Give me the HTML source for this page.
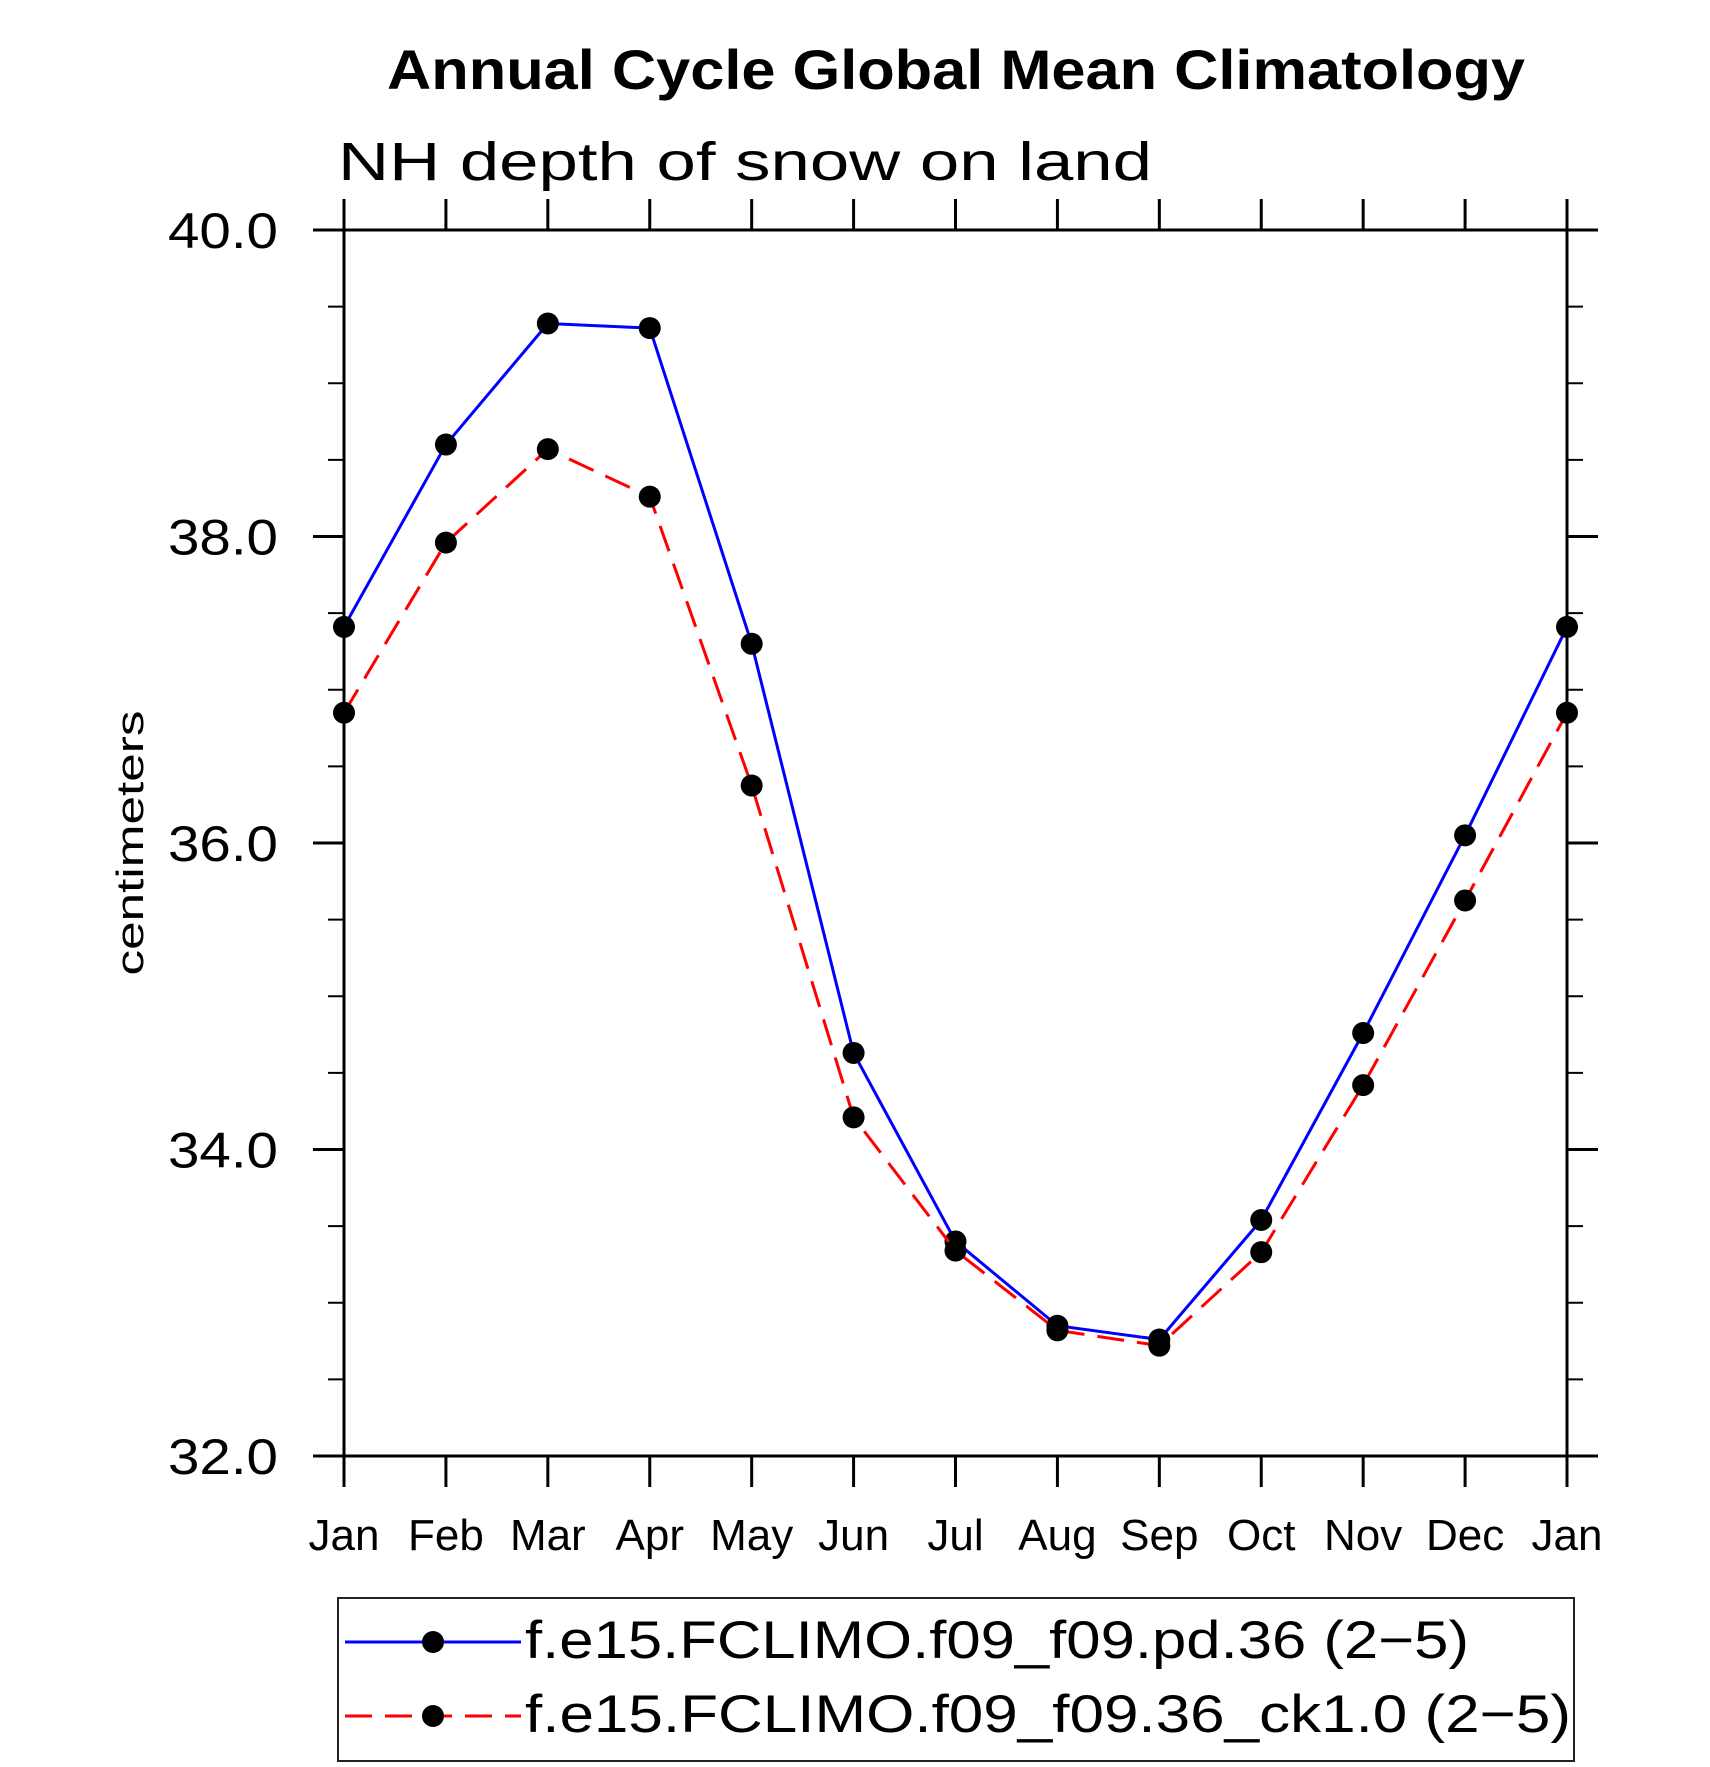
<!DOCTYPE html>
<html><head><meta charset="utf-8"><style>
html,body{margin:0;padding:0;background:#fff;}
svg{display:block;}
text{font-family:"Liberation Sans",sans-serif;fill:#000;}
</style></head><body>
<svg id="chart" width="1710" height="1767" viewBox="0 0 1710 1767" xmlns="http://www.w3.org/2000/svg">
<text x="956" y="89" text-anchor="middle" font-size="56" font-weight="bold" textLength="1138" lengthAdjust="spacingAndGlyphs">Annual Cycle Global Mean Climatology</text>
<text x="338" y="180" font-size="54" textLength="814" lengthAdjust="spacingAndGlyphs">NH depth of snow on land</text>
<text transform="translate(143,843) rotate(-90)" text-anchor="middle" font-size="38" textLength="265" lengthAdjust="spacingAndGlyphs">centimeters</text>
<g id="axes"></g>
<g id="series"></g>
<g>
<rect x="338" y="1598" width="1236" height="163" fill="none" stroke="#222" stroke-width="2"/>
<g>
<line x1="345" y1="1642" x2="521" y2="1642" stroke="#0000ff" stroke-width="3"/>
<circle cx="433" cy="1642" r="11" fill="#000"/>
<text x="525" y="1658" font-size="53" textLength="944" lengthAdjust="spacingAndGlyphs">f.e15.FCLIMO.f09_f09.pd.36 (2−5)</text>
</g>
<g>
<line x1="345" y1="1716" x2="521" y2="1716" stroke="#ff0000" stroke-width="3" stroke-dasharray="27,13"/>
<circle cx="433" cy="1716" r="11" fill="#000"/>
<text x="525" y="1732" font-size="53" textLength="1046" lengthAdjust="spacingAndGlyphs">f.e15.FCLIMO.f09_f09.36_ck1.0 (2−5)</text>
</g>
</g>
</svg>
<script>
const months = ["Jan","Feb","Mar","Apr","May","Jun","Jul","Aug","Sep","Oct","Nov","Dec","Jan"];
const seriesPd36 = [37.41,38.60,39.39,39.36,37.30,34.63,33.40,32.85,32.76,33.54,34.76,36.05,37.41];
const seriesCk10 = [36.85,37.96,38.57,38.26,36.375,34.21,33.34,32.82,32.72,33.33,34.42,35.625,36.85];
const yTickValues = [32,34,36,38,40];
const yTickLabels = ["32.0","34.0","36.0","38.0","40.0"];
const yMin = 32, yMax = 40;

const L=344,R=1567,T=230,B=1456;
const NS="http://www.w3.org/2000/svg";
function xs(i){return L+(R-L)*i/(months.length-1);}
function ys(v){return B-(B-T)*(v-yMin)/(yMax-yMin);}
function mk(tag,attrs,parent){const e=document.createElementNS(NS,tag);for(const k in attrs)e.setAttribute(k,attrs[k]);parent.appendChild(e);return e;}
const axes=document.getElementById('axes');
let f=mk('rect',{x:L,y:T,width:R-L,height:B-T,stroke:"#000","stroke-width":3,fill:"none"},axes);


months.forEach((m,i)=>{
  const x=xs(i);
  let t=mk('line',{x1:x,y1:B,x2:x,y2:B+31,stroke:"#000","stroke-width":3},axes);
  
  
  let t2=mk('line',{x1:x,y1:T,x2:x,y2:T-31,stroke:"#000","stroke-width":3},axes);
  
  
  let lb=mk('text',{x:x,y:1550,"text-anchor":"middle","font-size":"44"},axes);
  lb.textContent=m;
  
  
});
for(let v=yMin;v<=yMax+1e-9;v+=0.5){
  const y=ys(v);
  const major=Math.abs(v-Math.round(v/2)*2)<1e-9;
  const len=major?31:16;
  let a=mk('line',{x1:L-len,y1:y,x2:L,y2:y,stroke:"#000","stroke-width":major?3:2},axes);
  
  
  let b=mk('line',{x1:R,y1:y,x2:R+len,y2:y,stroke:"#000","stroke-width":major?3:2},axes);
  
  
}
yTickValues.forEach((v,i)=>{
  let lb=mk('text',{x:278,y:ys(v)+18,"text-anchor":"end","font-size":"50",textLength:"110",lengthAdjust:"spacingAndGlyphs"},axes);
  lb.textContent=yTickLabels[i];
  
  
});
const sg=document.getElementById('series');
function drawSeries(vals,color,dash,name){
  const pts=vals.map((v,i)=>xs(i)+","+ys(v)).join(" ");
  const attrs={points:pts,fill:"none",stroke:color,"stroke-width":3};
  if(dash)attrs["stroke-dasharray"]=dash;
  let pl=mk('polyline',attrs,sg);
  
  
  vals.forEach((v,i)=>{
    let c=mk('circle',{cx:xs(i),cy:ys(v),r:11,fill:"#000"},sg);
    
    
  });
}
drawSeries(seriesPd36,"#0000ff",null,"pd36");
drawSeries(seriesCk10,"#ff0000","27,13","ck10");
</script>
</body></html>
